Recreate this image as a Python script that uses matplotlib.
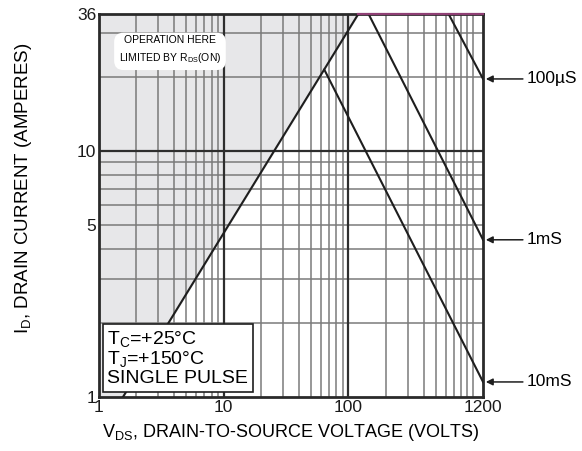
import numpy as np
import matplotlib
matplotlib.use("Agg")
import matplotlib.pyplot as plt

plt.rcParams['font.family'] = ['Liberation Sans', 'DejaVu Sans']
plt.rcParams['mathtext.fontset'] = 'custom'
plt.rcParams['mathtext.rm'] = 'Liberation Sans'

# safe operating area boundaries (V, A)
rds_v = [1.56, 120]
rds_i = [1, 36]
t100us_v = [635, 1200]
t100us_i = [36, 19.6]
t1ms_v = [145, 1200]
t1ms_i = [36, 4.35]
t10ms_v = [64, 1200]
t10ms_i = [21.4, 1.15]

x_ticks = [1, 10, 100, 1200]
y_ticks = [1, 5, 10, 36]
x_major = [10, 100]
y_major = [10]
x_minor = [2, 3, 4, 5, 6, 7, 8, 9, 20, 30, 40, 50, 60, 70, 80, 90,
           200, 300, 400, 500, 600, 700, 800, 900, 1000]
y_minor = [2, 3, 4, 5, 6, 7, 8, 9, 20, 30]

fig = plt.figure(figsize=(5.82, 4.51), dpi=100)
ax = fig.add_axes([0.170, 0.120, 0.660, 0.849])
ax.set_xscale('log')
ax.set_yscale('log')
ax.set_xlim(1, 1200)
ax.set_ylim(1, 36)

# shaded region limited by Rds(on)
ax.fill_betweenx(rds_i, 1, rds_v, color='#e7e7e9', zorder=0)

for v in x_minor:
    ax.axvline(v, color='#7a7a7a', lw=1.1, zorder=1)
for v in y_minor:
    ax.axhline(v, color='#7a7a7a', lw=1.1, zorder=1)
for v in x_major:
    ax.axvline(v, color='#2e2e2e', lw=1.6, zorder=1)
for v in y_major:
    ax.axhline(v, color='#2e2e2e', lw=1.6, zorder=1)

lc = '#1e1e1e'
ax.plot(rds_v, rds_i, color=lc, lw=1.5, zorder=3)
ax.plot(t100us_v, t100us_i, color=lc, lw=1.5, zorder=3)
ax.plot(t1ms_v, t1ms_i, color=lc, lw=1.5, zorder=3)
ax.plot(t10ms_v, t10ms_i, color=lc, lw=1.5, zorder=3)
ax.plot([rds_v[1], 1200], [36, 36], color='#8e3f74', lw=1.6, zorder=4, clip_on=False)

for s in ax.spines.values():
    s.set_color('#2a2a2a')
    s.set_linewidth(2)

ax.set_xticks(x_ticks)
ax.set_xticklabels([str(v) for v in x_ticks])
ax.set_yticks(y_ticks)
ax.set_yticklabels([str(v) for v in y_ticks])
ax.minorticks_off()
ax.tick_params(length=0, labelsize=12.5, pad=2, colors='#1a1a1a')

ax.set_xlabel(r'V$_\mathregular{DS}$, DRAIN-TO-SOURCE VOLTAGE (VOLTS)', fontsize=13, labelpad=5)
ax.set_ylabel(r'I$_\mathregular{D}$, DRAIN CURRENT (AMPERES)', fontsize=13.5)
ax.yaxis.set_label_coords(-0.17, 0.545)

ax.text(0.185, 0.905, 'OPERATION HERE\nLIMITED BY R$_\\mathregular{DS}$(ON)', transform=ax.transAxes,
        ha='center', va='center', fontsize=7.5, linespacing=1.6, zorder=5,
        bbox=dict(boxstyle='round,pad=0.45,rounding_size=0.9', fc='white', ec='none'))

ax.text(0.022, 0.026, 'T$_\\mathregular{C}$=+25°C\nT$_\\mathregular{J}$=+150°C\nSINGLE PULSE',
        transform=ax.transAxes, ha='left', va='bottom', fontsize=14, linespacing=0.98, zorder=5,
        bbox=dict(boxstyle='square,pad=0.25', fc='white', ec='#1e1e1e', lw=1.2))

labels = ['100µS', '1mS', '10mS']
ends = [t100us_i[-1], t1ms_i[-1], t10ms_i[-1]]
for lab, yv in zip(labels, ends):
    ax.annotate(lab, xy=(1200, yv), xytext=(44, 0), textcoords='offset pixels',
                ha='left', va='center', fontsize=12.5, annotation_clip=False,
                arrowprops=dict(arrowstyle='-|>', color='#1e1e1e', lw=1.1,
                                shrinkA=1, shrinkB=2, mutation_scale=10))

fig.savefig('out.png', dpi=100)
